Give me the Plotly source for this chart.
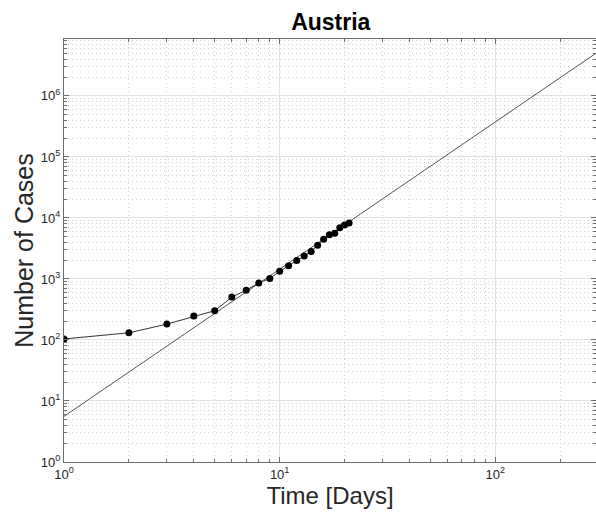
import plotly.graph_objects as go

days = [1, 2, 3, 4, 5, 6, 7, 8, 9, 10, 11, 12, 13, 14, 15, 16, 17, 18, 19, 20, 21]
cases = [104, 131, 182, 246, 302, 504, 655, 860, 1018, 1332, 1646, 2013, 2388,
         2814, 3582, 4474, 5283, 5588, 6909, 7697, 8271]
fit_x = [1, 300]
fit_y = [5.6, 5.3e6]

x_tickvals = [1, 10, 100]
x_ticktext = ["10<sup>0</sup>", "10<sup>1</sup>", "10<sup>2</sup>"]
y_tickvals = [1, 10, 100, 1000, 1e4, 1e5, 1e6]
y_ticktext = ["10<sup>%d</sup>" % i for i in range(7)]

FONT = "Liberation Sans, Arial, Helvetica, sans-serif"
AX = "#262626"

fig = go.Figure()
fig.add_trace(go.Scatter(x=fit_x, y=fit_y, mode="lines",
                         line=dict(color="#555555", width=1), showlegend=False))
fig.add_trace(go.Scatter(x=days, y=cases, mode="lines+markers",
                         line=dict(color="#333333", width=1),
                         marker=dict(color="black", size=7), showlegend=False))

axis_common = dict(
    type="log",
    showline=True, linecolor="#6e6e6e", linewidth=1, mirror="allticks",
    ticks="inside", ticklen=5, tickcolor="#6e6e6e", tickwidth=1,
    showgrid=True, gridcolor="#e2e2e2", gridwidth=1,
    zeroline=False,
    tickfont=dict(family=FONT, size=13, color=AX),
    minor=dict(dtick="D1", showgrid=True, gridcolor="#d2d2d2", griddash="1px,3px", gridwidth=1,
               ticks="inside", ticklen=3, tickcolor="#6e6e6e"),
)

fig.update_xaxes(**axis_common, range=[0, 2.467],
                 tickvals=x_tickvals, ticktext=x_ticktext,
                 title=dict(text="Time [Days]", font=dict(family=FONT, size=24, color=AX), standoff=5))
fig.update_yaxes(**axis_common, range=[0, 6.933],
                 tickvals=y_tickvals, ticktext=y_ticktext,
                 title=dict(text="Number of Cases", font=dict(family=FONT, size=25, color=AX), standoff=0))

fig.update_layout(
    width=596, height=516,
    margin=dict(l=64, r=0, t=39, b=54),
    paper_bgcolor="white", plot_bgcolor="white",
    title=dict(text="<b>Austria</b>", x=0.555, xanchor="center", y=0.957, yanchor="middle",
               font=dict(family=FONT, size=23, color="black")),
)

fig.write_html("out.html")
